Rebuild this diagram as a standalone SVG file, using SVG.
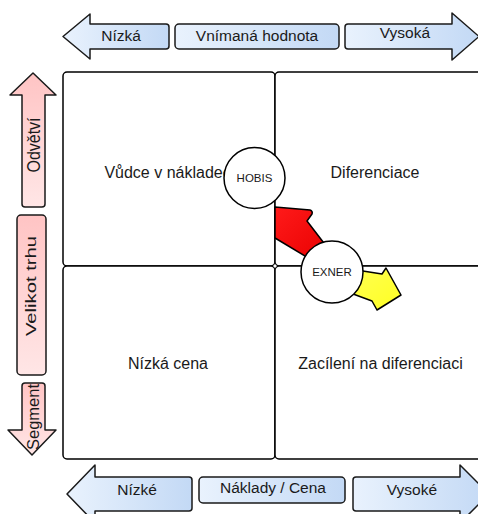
<svg xmlns="http://www.w3.org/2000/svg" width="478" height="514" viewBox="0 0 478 514">
<defs>
<linearGradient id="blue" x1="0" y1="0" x2="1" y2="0">
<stop offset="0" stop-color="#e9f2fd"/>
<stop offset="1" stop-color="#c3d9f5"/>
</linearGradient>
<linearGradient id="pink" x1="0" y1="0" x2="0" y2="1">
<stop offset="0" stop-color="#ffc4c4"/>
<stop offset="1" stop-color="#ffe6e6"/>
</linearGradient>
<linearGradient id="red" x1="0" y1="0" x2="1" y2="1">
<stop offset="0" stop-color="#ff1a1a"/>
<stop offset="1" stop-color="#e80000"/>
</linearGradient>
<linearGradient id="yellow" x1="0" y1="0" x2="1" y2="1">
<stop offset="0" stop-color="#ffff55"/>
<stop offset="1" stop-color="#ffff22"/>
</linearGradient>
</defs>
<style>
.lbl{font-family:"Liberation Sans",Arial,sans-serif;font-size:15.5px;fill:#1a1a1a;text-anchor:middle}
.q{font-family:"Liberation Sans",Arial,sans-serif;font-size:16px;fill:#1a1a1a;text-anchor:middle}
.c{font-family:"Liberation Sans",Arial,sans-serif;font-size:11.5px;fill:#1a1a1a;text-anchor:middle}
.b{fill:url(#blue);stroke:#1a1a1a;stroke-width:1.5;stroke-linejoin:round}
.p{fill:url(#pink);stroke:#1a1a1a;stroke-width:1.5;stroke-linejoin:round}
.quad{fill:#fff;stroke:#000;stroke-width:1.5}
.circ{fill:#fff;stroke:#000;stroke-width:1.5}
</style>
<rect width="478" height="514" fill="#fff"/>

<g id="quadrants">
<g id="q-tl"><rect class="quad" x="63" y="72" width="212" height="194" rx="4"/><text class="q" x="172" y="178">Vůdce v nákladech</text></g>
<g id="q-tr"><rect class="quad" x="275" y="72" width="215" height="194" rx="4"/><text class="q" x="375" y="178">Diferenciace</text></g>
<g id="q-bl"><rect class="quad" x="63" y="266" width="212" height="193" rx="4"/><text class="q" x="168" y="369">Nízká cena</text></g>
<g id="q-br"><rect class="quad" x="275" y="266" width="215" height="193" rx="4"/><text class="q" x="380.5" y="369">Zacílení na diferenciaci</text></g>
<circle cx="275" cy="266" r="2.2" fill="#fff" stroke="#000" stroke-width="1"/>
</g>

<g id="top-axis">
<g id="top-low"><path class="b" d="M63,36.5 L90,14 L90,24 L166,24 Q169,24 169,27 L169,46 Q169,49 166,49 L90,49 L90,59 Z"/><text class="lbl" x="121" y="41">Nízká</text></g>
<g id="top-title"><rect class="b" x="175" y="24" width="164" height="25" rx="4"/><text class="lbl" x="257" y="41">Vnímaná hodnota</text></g>
<g id="top-high"><path class="b" d="M348,24 L452,24 L452,13 L479,36.5 L452,60 L452,49 L348,49 Q345,49 345,46 L345,27 Q345,24 348,24 Z"/><text class="lbl" x="405" y="38">Vysoká</text></g>
</g>

<g id="bottom-axis">
<g id="bot-low"><path class="b" d="M67,494 L95,465 L95,477 L189,477 Q192,477 192,480 L192,508 Q192,511 189,511 L95,511 L95,523 Z"/><text class="lbl" x="137" y="495">Nízké</text></g>
<g id="bot-title"><rect class="b" x="199" y="477" width="146" height="26" rx="4"/><text class="lbl" x="273" y="493">Náklady / Cena</text></g>
<g id="bot-high"><path class="b" d="M356,477 L460,477 L460,465 L489,494 L460,523 L460,511 L356,511 Q353,511 353,508 L353,480 Q353,477 356,477 Z"/><text class="lbl" x="412" y="495">Vysoké</text></g>
</g>

<g id="left-axis">
<g id="left-up"><path class="p" d="M33,73 L56,95 L45,95 L45,204 Q45,207 42,207 L25,207 Q22,207 22,204 L22,95 L10,95 Z"/><text class="lbl" style="font-size:17.5px" transform="translate(39.5,145) rotate(-90)" x="0" y="0" textLength="55" lengthAdjust="spacingAndGlyphs">Odvětví</text></g>
<g id="left-title"><rect class="p" x="17" y="215" width="29" height="160" rx="4"/><text class="lbl" transform="translate(36,286) rotate(-90)" x="0" y="0" textLength="100" lengthAdjust="spacingAndGlyphs">Velikot trhu</text></g>
<g id="left-down"><path class="p" d="M25,383 L42,383 Q45,383 45,386 L45,430 L56,430 L32,455 L8,430 L22,430 L22,386 Q22,383 25,383 Z"/><text class="lbl" style="font-size:17px" transform="translate(38.5,417) rotate(-90)" x="0" y="0" textLength="66" lengthAdjust="spacingAndGlyphs">Segment</text></g>
</g>

<g id="connectors">
<path d="M275,207 L310,210 Q313,211 312,214 L307,221 L330,251 L315,262 L275,238 Z" fill="url(#red)" stroke="#000" stroke-width="1.5" stroke-linejoin="round"/>
<path d="M350,269 L382,274 L386,268 L401,295 L377,310 L372,301 L345,291 Z" fill="url(#yellow)" stroke="#000" stroke-width="1.5" stroke-linejoin="round"/>
</g>

<g id="hobis"><circle class="circ" cx="254.5" cy="178" r="30.5"/><text class="c" x="254.5" y="182">HOBIS</text></g>
<g id="exner"><circle class="circ" cx="332" cy="272" r="31"/><text class="c" x="332" y="276">EXNER</text></g>
</svg>
